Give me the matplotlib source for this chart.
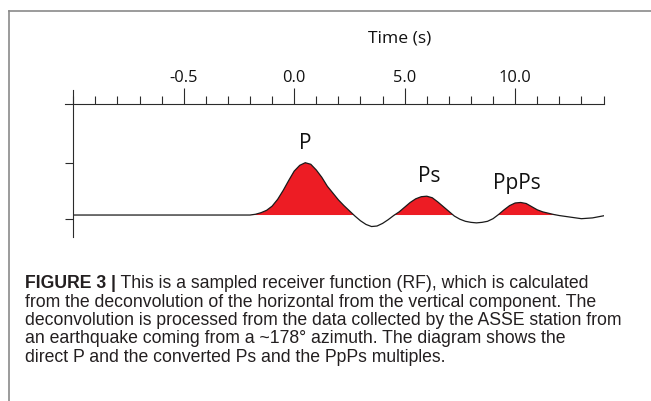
import matplotlib
matplotlib.use("Agg")
import matplotlib.pyplot as plt
from matplotlib.lines import Line2D

# ---------------- data ----------------
time_s = [-10.0, -2.0, -1.75, -1.5, -1.25, -1.0, -0.75, -0.5, -0.25, 0.0, 0.25, 0.5, 0.75,
          1.0, 1.25, 1.5, 1.75, 2.0, 2.25, 2.5, 2.75, 3.0, 3.25, 3.5, 3.75, 4.0, 4.25,
          4.5, 4.75, 5.0, 5.25, 5.5, 5.75, 6.0, 6.25, 6.5, 6.75, 7.0, 7.25, 7.5, 7.75,
          8.0, 8.25, 8.5, 8.75, 9.0, 9.25, 9.5, 9.75, 10.0, 10.25, 10.5, 10.75, 11.0,
          11.25, 11.5, 11.75, 12.0, 12.5, 13.0, 13.5, 14.0]
amplitude = [0.0, 0.0, 0.015, 0.045, 0.09, 0.17, 0.30, 0.47, 0.66, 0.84, 0.95, 1.0, 0.97,
             0.86, 0.72, 0.55, 0.42, 0.29, 0.18, 0.08, -0.02, -0.11, -0.18, -0.22, -0.21,
             -0.16, -0.09, -0.01, 0.06, 0.15, 0.24, 0.31, 0.35, 0.36, 0.33, 0.25, 0.16,
             0.07, -0.02, -0.08, -0.12, -0.14, -0.15, -0.14, -0.12, -0.07, 0.01, 0.10,
             0.18, 0.23, 0.24, 0.22, 0.16, 0.10, 0.06, 0.035, 0.01, -0.01, -0.04, -0.07,
             -0.055, -0.015]

major_ticks = [-5, 0, 5, 10]
major_labels = ["-0.5", "0.0", "5.0", "10.0"]
minor_ticks = list(range(-10, 15))
y_ticks = [-0.08, 1.0]

phase_names = ["P", "Ps", "PpPs"]
phase_t = [0.49, 6.10, 10.07]
phase_a = [1.256, 0.625, 0.497]

axis_title = "Time (s)"
caption_bold = "FIGURE 3 |"
caption_lines = [
    " This is a sampled receiver function (RF), which is calculated",
    "from the deconvolution of the horizontal from the vertical component. The",
    "deconvolution is processed from the data collected by the ASSE station from",
    "an earthquake coming from a ~178\u00b0 azimuth. The diagram shows the",
    "direct P and the converted Ps and the PpPs multiples.",
]

# ---------------- figure ----------------
W, H = 651, 401
fig = plt.figure(figsize=(W / 100, H / 100), dpi=100)
fig.patch.set_facecolor("white")

def fx(px):
    return px / W

def fy(py):
    return 1 - py / H

# frame lines (top and left)
fig.add_artist(Line2D([fx(9.3), 1.0], [fy(10.7), fy(10.7)], color="#8a8a8a", lw=1.2))
fig.add_artist(Line2D([fx(9.3), fx(9.3)], [fy(10.7), 0.0], color="#8a8a8a", lw=1.2))

ax_color = "#2b2b2b"
ax = fig.add_axes([fx(73.3), fy(237), fx(603.5) - fx(73.3), fy(90) - fy(237)])
ax.set_xlim(-10, 14)
ax.set_ylim(-0.42, 2.39)
ax.patch.set_alpha(0)

for s in ["bottom", "right"]:
    ax.spines[s].set_visible(False)
ax.spines["left"].set_color(ax_color)
ax.spines["left"].set_linewidth(0.8)
ax.spines["top"].set_position(("data", 2.12))
ax.spines["top"].set_bounds(-10.38, 14.02)
ax.spines["top"].set_color(ax_color)
ax.spines["top"].set_linewidth(0.8)

ax.xaxis.tick_top()
ax.set_xticks(major_ticks)
ax.set_xticklabels(major_labels)
ax.set_xticks([m for m in minor_ticks if m not in major_ticks], minor=True)
ax.tick_params(axis="x", which="major", direction="out", length=11.3, width=0.8,
               color=ax_color, pad=2, labelsize=11.8, labelcolor="#111111")
ax.tick_params(axis="x", which="minor", direction="out", length=5.8, width=0.8,
               color=ax_color)
for lab in ax.get_xticklabels():
    lab.set_fontfamily("Open Sans")
ax.set_yticks(y_ticks)
ax.set_yticklabels([])
ax.tick_params(axis="y", direction="out", length=6, width=0.8, color=ax_color)

# waveform
ax.fill_between(time_s, amplitude, 0, where=[a > 0 for a in amplitude],
                interpolate=True, color="#ED1C24", lw=0)
ax.plot(time_s, amplitude, color="#1a1a1a", lw=0.9, solid_joinstyle="round")

for name, t, a in zip(phase_names, phase_t, phase_a):
    ax.text(t, a, name, ha="center", va="baseline", fontsize=15,
            family="Open Sans", color="#111111")

fig.text(fx(400), fy(42.7), axis_title, ha="center", va="baseline",
         fontsize=12.6, family="Open Sans", color="#111111")

# caption
cap_font = "Liberation Sans"
cap_size = 12.7
cap_color = "#231f20"
baselines = [288.3, 306.6, 325.0, 343.3, 361.7]
bold = fig.text(fx(25), fy(baselines[0]), caption_bold, ha="left", va="baseline",
                fontsize=cap_size, family=cap_font, weight="bold", color=cap_color)
fig.canvas.draw()
r = fig.canvas.get_renderer()
bb = bold.get_window_extent(r)
fig.text(bb.x1 / W, fy(baselines[0]), caption_lines[0], ha="left", va="baseline",
         fontsize=cap_size, family=cap_font, color=cap_color)
for line, b in zip(caption_lines[1:], baselines[1:]):
    fig.text(fx(25), fy(b), line, ha="left", va="baseline", fontsize=cap_size,
             family=cap_font, color=cap_color)

fig.savefig("out.png", dpi=100)
